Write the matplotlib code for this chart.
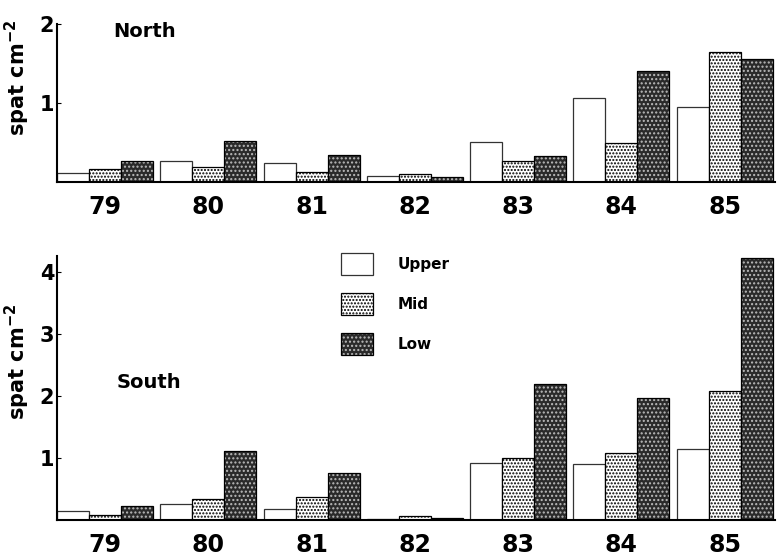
# Spat density by year, North and South sites, three shore levels
import numpy as np
import matplotlib
matplotlib.use("Agg")
import matplotlib.pyplot as plt
from matplotlib.patches import Patch

years = ["79", "80", "81", "82", "83", "84", "85"]
levels = ["Upper", "Mid", "Low"]

# values (spat cm^-2)
north_upper = [0.12, 0.26, 0.24, 0.08, 0.51, 1.06, 0.95]
north_mid = [0.16, 0.19, 0.13, 0.10, 0.27, 0.49, 1.64]
north_low = [0.26, 0.52, 0.34, 0.06, 0.33, 1.40, 1.55]

south_upper = [0.15, 0.26, 0.17, 0.01, 0.92, 0.91, 1.14]
south_mid = [0.08, 0.34, 0.37, 0.06, 1.00, 1.08, 2.08]
south_low = [0.23, 1.12, 0.76, 0.04, 2.20, 1.96, 4.22]

plt.rcParams["font.family"] = ["DejaVu Sans"]
plt.rcParams["font.weight"] = "bold"
plt.rcParams["hatch.linewidth"] = 1.0

fig = plt.figure(figsize=(7.78, 5.55), dpi=100)
ax_n = fig.add_axes([0.0733, 0.672, 0.923, 0.285])
ax_s = fig.add_axes([0.0733, 0.063, 0.923, 0.475])

x = np.arange(len(years))
w = 0.31


def draw_bars(ax, upper, mid, low):
    ax.bar(x - w, upper, w, color="white", edgecolor="#333333", linewidth=0.9)
    ax.bar(x, mid, w, color="white", edgecolor="black", hatch=".....", linewidth=0.9)
    # dark bars: light dots on dark fill, then a black outline on top
    ax.bar(x + w, low, w, color="#2a2a2a", edgecolor="#bbbbbb", hatch="....", linewidth=0)
    ax.bar(x + w, low, w, fill=False, edgecolor="black", linewidth=0.9)

    ax.set_xlim(-1.5 * w, 6.49)
    ax.set_xticks(x, years)
    ax.tick_params(axis="x", length=0, pad=9, labelsize=17)
    ax.tick_params(axis="y", direction="in", length=3, pad=2, labelsize=15)
    for s in ["top", "right"]:
        ax.spines[s].set_visible(False)
    ax.spines["left"].set_linewidth(1.5)
    ax.spines["bottom"].set_linewidth(1.5)


draw_bars(ax_n, north_upper, north_mid, north_low)
ax_n.set_ylim(0, 2.0)
ax_n.set_yticks([1, 2])
ax_n.set_ylabel("spat cm$^{\\mathbf{-2}}$", fontsize=15, fontweight="bold")
ax_n.yaxis.set_label_coords(-0.035, 0.66)
ax_n.text(0.078, 0.95, "North", transform=ax_n.transAxes, fontsize=14,
          fontweight="bold", va="center")

draw_bars(ax_s, south_upper, south_mid, south_low)
ax_s.set_ylim(0, 4.25)
ax_s.set_yticks([1, 2, 3, 4])
ax_s.set_ylabel("spat cm$^{\\mathbf{-2}}$", fontsize=15, fontweight="bold")
ax_s.yaxis.set_label_coords(-0.035, 0.6)
ax_s.text(0.083, 0.52, "South", transform=ax_s.transAxes, fontsize=14,
          fontweight="bold", va="center")

# legend
handles = [
    Patch(facecolor="white", edgecolor="#333333", linewidth=0.9),
    Patch(facecolor="white", edgecolor="black", hatch=".....", linewidth=0.9),
    (Patch(facecolor="#2a2a2a", edgecolor="#bbbbbb", hatch="....", linewidth=0),
     Patch(fill=False, edgecolor="black", linewidth=0.9)),
]
fig.legend(handles, levels, loc="upper left", bbox_to_anchor=(0.43, 0.555),
           frameon=False, fontsize=11, handlelength=2.1, handleheight=1.8,
           labelspacing=1.2, handletextpad=1.6, borderaxespad=0)

fig.savefig("out.png", dpi=100)
